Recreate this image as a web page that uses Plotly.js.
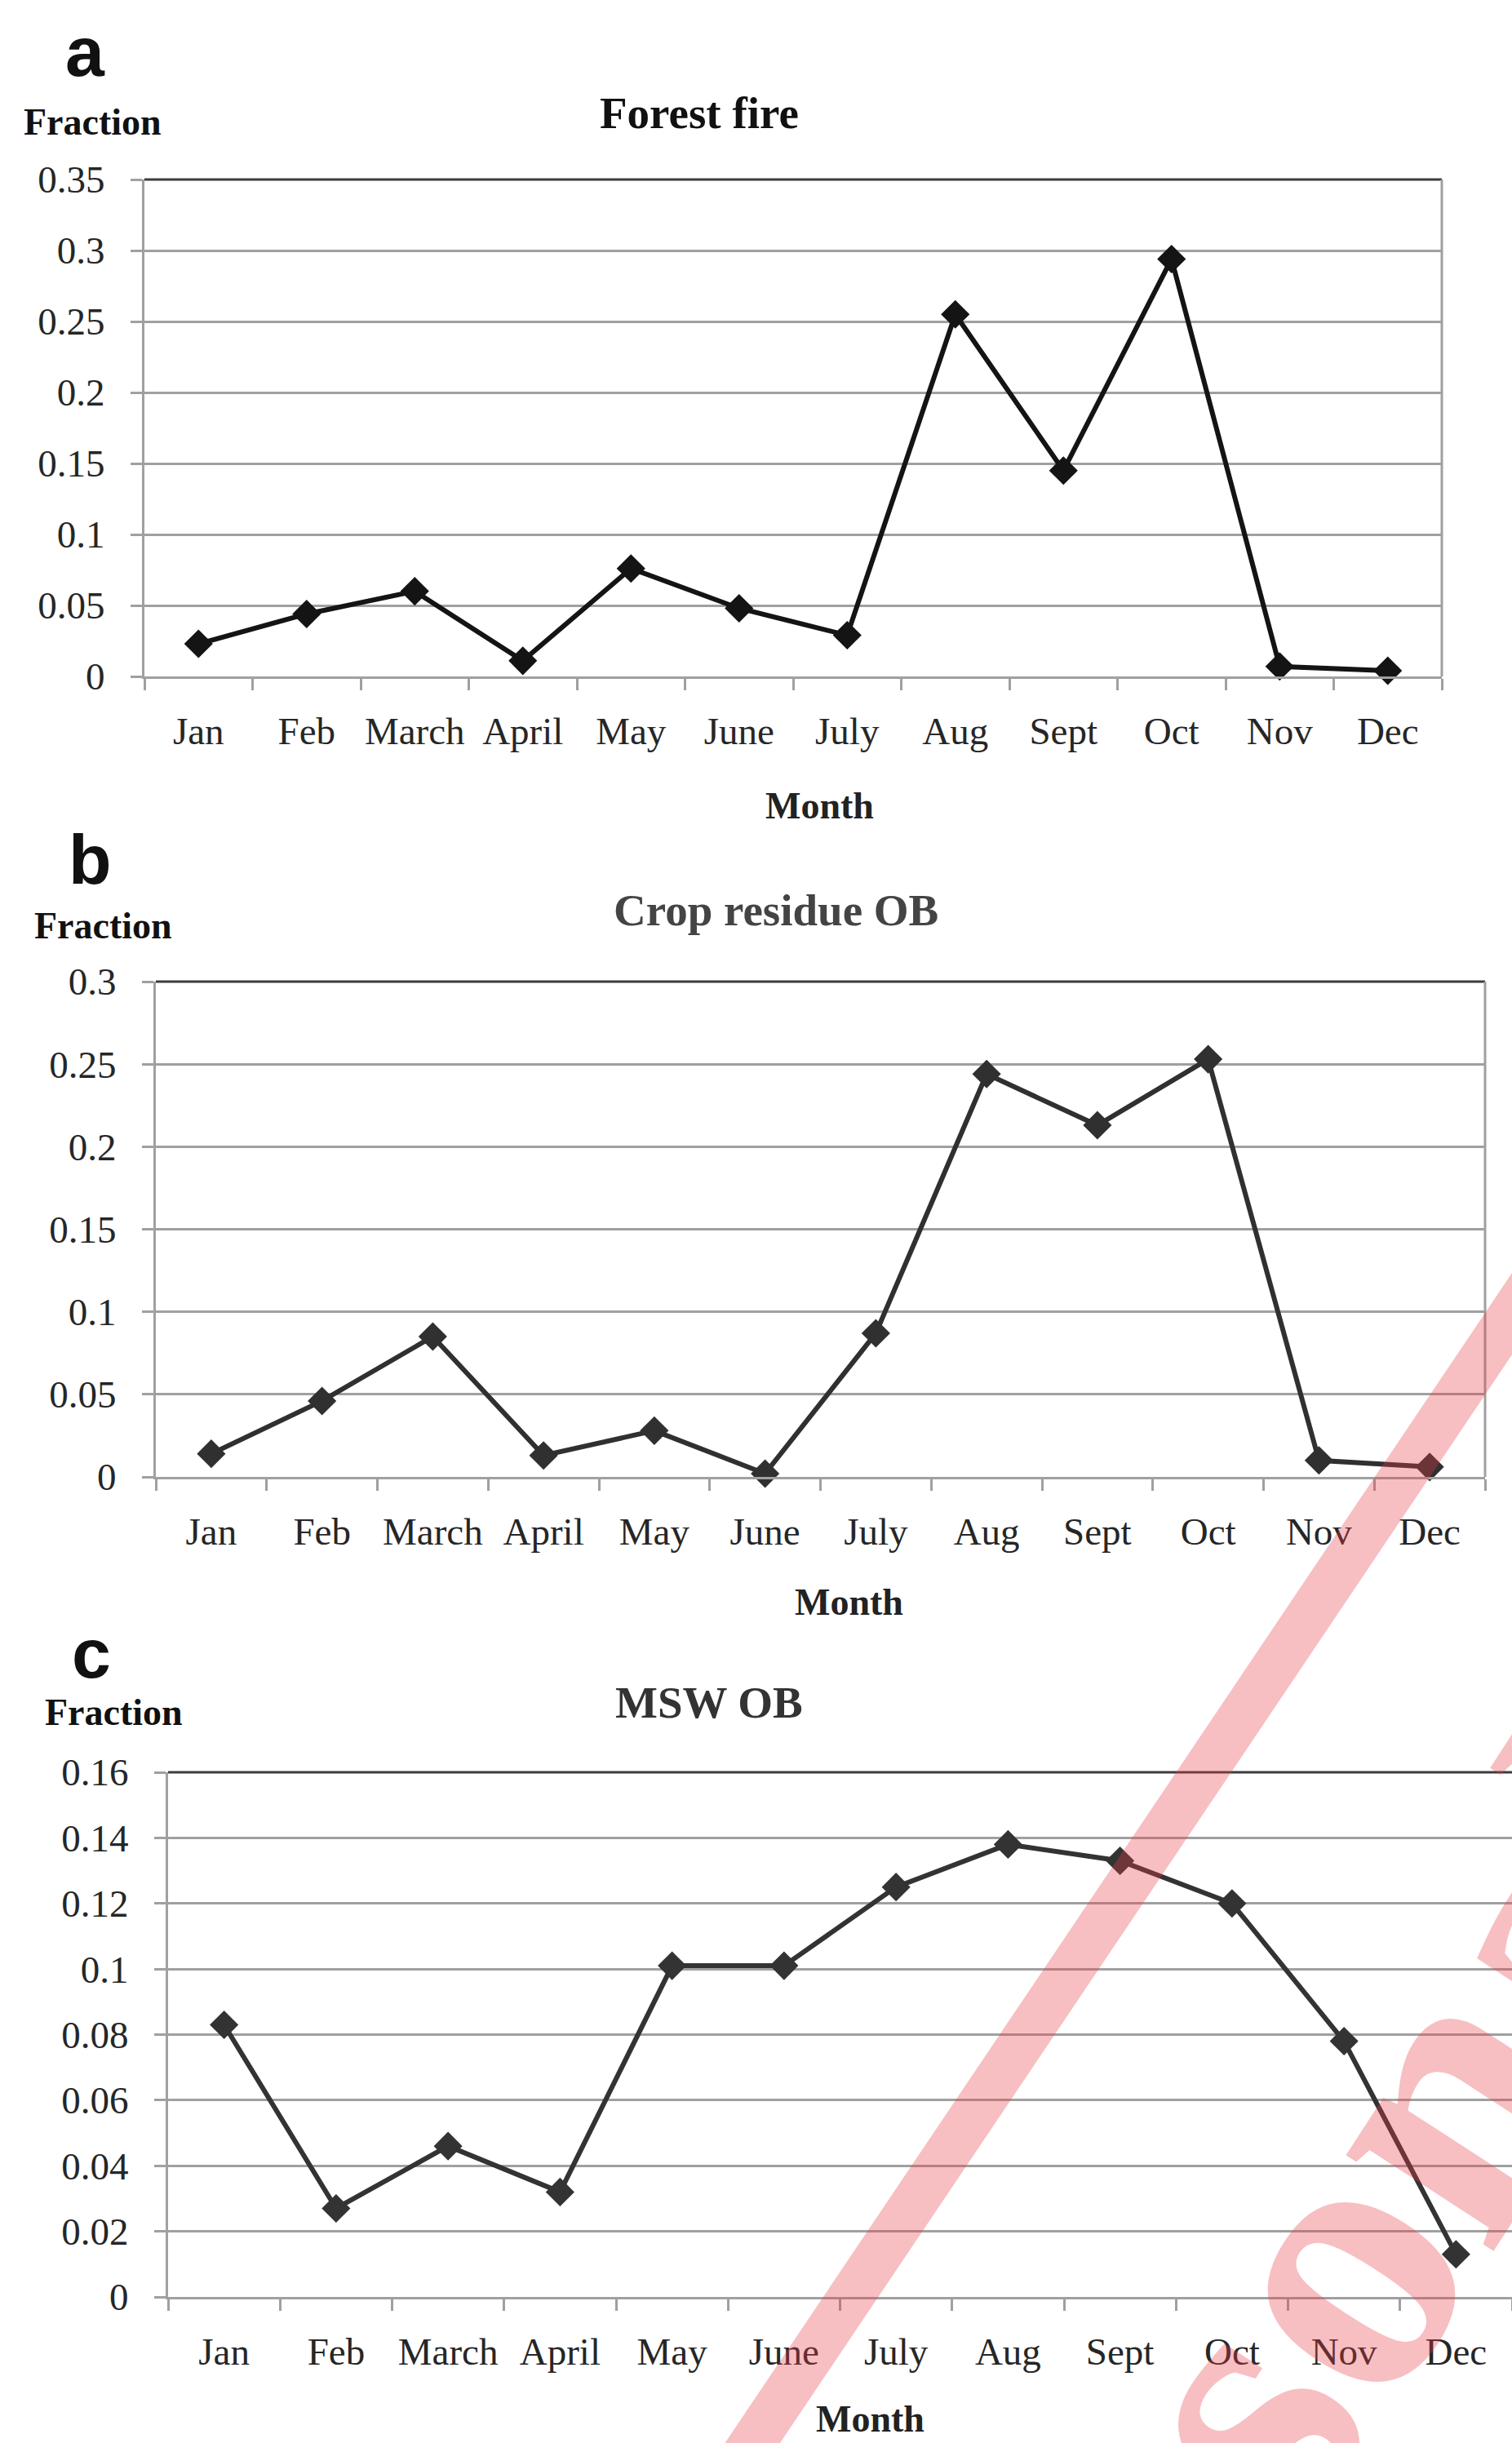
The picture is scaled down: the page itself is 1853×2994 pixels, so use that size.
<!DOCTYPE html>
<html>
<head>
<meta charset="utf-8">
<script src="https://cdn.plot.ly/plotly-3.0.1.min.js"></script>
<style>
html,body{margin:0;padding:0;background:#fff;}
#chart{width:1853px;height:2994px;}
</style>
</head>
<body>
<div id="chart"></div>
<script>
// ---------------- data ----------------
const months = ['Jan','Feb','March','April','May','June','July','Aug','Sept','Oct','Nov','Dec'];
const forestFire    = [0.023, 0.044, 0.060, 0.011, 0.076, 0.048, 0.029, 0.255, 0.145, 0.294, 0.007, 0.004];
const cropResidueOB = [0.014, 0.046, 0.085, 0.013, 0.028, 0.002, 0.087, 0.244, 0.213, 0.253, 0.010, 0.006];
const mswOB         = [0.083, 0.027, 0.046, 0.032, 0.101, 0.101, 0.125, 0.138, 0.133, 0.120, 0.078, 0.013];
const panelTitles   = ['Forest fire', 'Crop residue OB', 'MSW OB'];
const panelLetters  = ['a', 'b', 'c'];
const yLabel = 'Fraction';
const xLabel = 'Month';
const watermarkText = 'Personal';

// ---------------- layout helpers ----------------
const W = 1853, H = 2994;
const px = x => x / W;
const py = y => 1 - y / H;
const SERIF = 'Liberation Serif, Times New Roman, serif';
const SANS = 'Liberation Sans, Arial, sans-serif';
const GRID = '#a0a0a0';

const panels = [
  {vals: forestFire,    ymax: 0.35, dtick: 0.05, box: [177, 1767, 220, 829],  color: '#141414', right: true,
   letter: [104, 63], frac: [113, 149], title: [857, 139], titleColor: '#111', month: [1005, 988]},
  {vals: cropResidueOB, ymax: 0.30, dtick: 0.05, box: [191, 1820, 1203, 1810], color: '#303030', right: true,
   letter: [110, 1053], frac: [127, 1134], title: [951, 1115], titleColor: '#444', month: [1040, 1963]},
  {vals: mswOB,         ymax: 0.16, dtick: 0.02, box: [206, 1853, 2172, 2815], color: '#333333', right: false,
   letter: [112, 2026], frac: [139, 2098], title: [869, 2086], titleColor: '#333', month: [1066, 2964]}
];

const data = [];
const layout = {
  width: W, height: H,
  margin: {l: 0, r: 0, t: 0, b: 0},
  paper_bgcolor: '#fff', plot_bgcolor: '#fff',
  showlegend: false,
  shapes: [], annotations: []
};

panels.forEach((p, i) => {
  const n = i === 0 ? '' : String(i + 1);
  const [L, R, T, B] = p.box;
  data.push({
    x: months, y: p.vals,
    xaxis: 'x' + n, yaxis: 'y' + n,
    type: 'scatter', mode: 'lines+markers',
    line: {color: p.color, width: 6},
    marker: {symbol: 'diamond', size: 27, color: p.color},
    hoverinfo: 'skip', cliponaxis: false
  });
  layout['xaxis' + n] = {
    domain: [px(L), px(R)], anchor: 'y' + n,
    type: 'category', range: [-0.5, 11.5],
    showgrid: false, zeroline: false,
    showline: true, linecolor: GRID, linewidth: 3,
    ticks: 'outside', tickson: 'boundaries', ticklen: 14, tickwidth: 3, tickcolor: GRID,
    tickangle: 0,
    tickfont: {family: SERIF, size: 47, color: '#262626'},
    ticklabelstandoff: 24, fixedrange: true
  };
  layout['yaxis' + n] = {
    domain: [py(B), py(T)], anchor: 'x' + n,
    range: [0, p.ymax], tick0: 0, dtick: p.dtick,
    showgrid: true, gridcolor: GRID, gridwidth: 3, zeroline: false,
    showline: true, linecolor: GRID, linewidth: 3,
    ticks: 'outside', ticklen: 14, tickwidth: 3, tickcolor: GRID,
    tickfont: {family: SERIF, size: 47, color: '#262626'},
    ticklabelstandoff: 22, fixedrange: true
  };
  // top border
  layout.shapes.push({type: 'line', xref: 'x' + n + ' domain', yref: 'y' + n + ' domain',
    x0: 0, x1: 1, y0: 1, y1: 1, line: {color: '#3c3c3c', width: 3}, layer: 'below'});
  if (p.right) {
    layout.shapes.push({type: 'line', xref: 'x' + n + ' domain', yref: 'y' + n + ' domain',
      x0: 1, x1: 1, y0: 0, y1: 1, line: {color: GRID, width: 3}, layer: 'below'});
  }
  const ann = (txt, pos, size, color, family) => layout.annotations.push({
    text: txt, xref: 'paper', yref: 'paper', x: px(pos[0]), y: py(pos[1]),
    xanchor: 'center', yanchor: 'middle', showarrow: false,
    font: {family: family || SERIF, size: size, color: color}
  });
  ann('<b>' + panelLetters[i] + '</b>', p.letter, 86, '#111', SANS);
  ann('<b>' + yLabel + '</b>', p.frac, 46, '#111');
  ann('<b>' + panelTitles[i] + '</b>', p.title, 55, p.titleColor);
  ann('<b>' + xLabel + '</b>', p.month, 46, '#222');
});

// watermark (diagonal band + rotated text)
layout.shapes.push({type: 'line', xref: 'paper', yref: 'paper', layer: 'above',
  x0: px(900), y0: py(3027), x1: px(1880), y1: py(1570),
  line: {color: 'rgba(230,60,70,0.33)', width: 56}});
layout.annotations.push({text: '<b>' + watermarkText + '</b>', xref: 'paper', yref: 'paper',
  x: px(1555), y: py(2891), xanchor: 'center', yanchor: 'middle', showarrow: false,
  textangle: -57, font: {family: SERIF, size: 470, color: 'rgba(230,60,70,0.33)'}});

Plotly.newPlot('chart', data, layout, {staticPlot: true, displayModeBar: false});
</script>
</body>
</html>
